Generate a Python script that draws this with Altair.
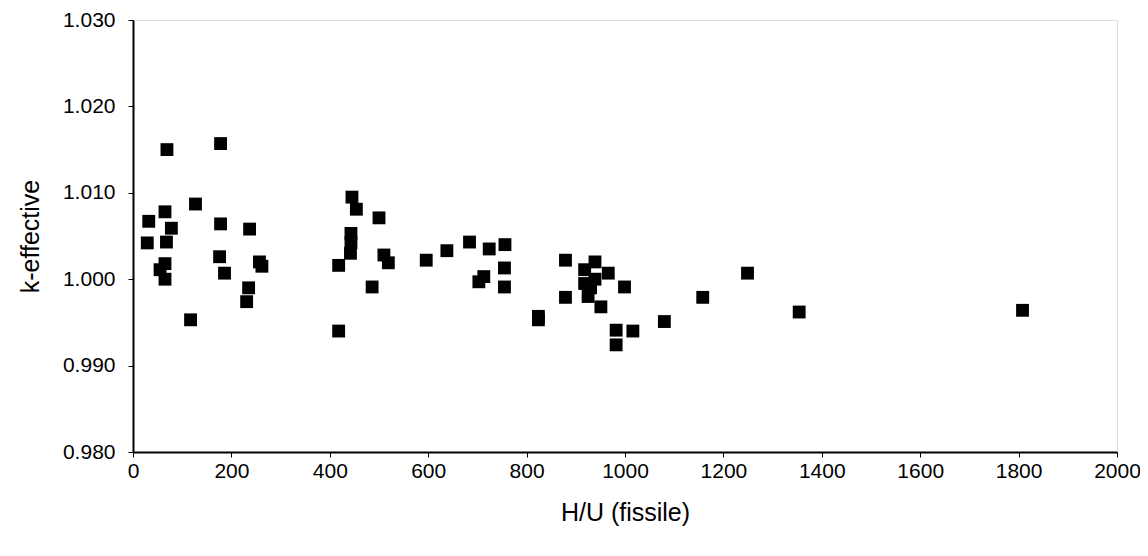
import altair as alt
import pandas as pd

hu = [29, 32, 65, 78, 68, 69, 55, 65, 65, 117, 127, 178, 178, 176, 186, 237, 235, 231, 257, 262,
      418, 418, 443, 443, 442, 445, 454, 486, 500, 510, 519, 596, 638, 684, 703, 713, 724, 756,
      755, 755, 824, 824, 879, 879, 918, 939, 966, 918, 925, 951, 999, 939, 930, 982, 982, 1016,
      1080, 1158, 1249, 1354, 1808]
keff = [1.0042, 1.0067, 1.0078, 1.0059, 1.0043, 1.0150, 1.0011, 1.0000, 1.0018, 0.9953, 1.0087,
        1.0157, 1.0064, 1.0026, 1.0007, 1.0058, 0.9990, 0.9974, 1.0020, 1.0015,
        1.0016, 0.9940, 1.0053, 1.0042, 1.0030, 1.0095, 1.0081, 0.9991, 1.0071, 1.0028, 1.0019,
        1.0022, 1.0033, 1.0043, 0.9997, 1.0003, 1.0035, 1.0040, 1.0013, 0.9991, 0.9957, 0.9953,
        1.0022, 0.9979, 1.0011, 1.0020, 1.0007, 0.9995, 0.9980, 0.9968, 0.9991, 1.0000, 0.9990,
        0.9941, 0.9924, 0.9940, 0.9951, 0.9979, 1.0007, 0.9962, 0.9964]

x_ticks = list(range(0, 2001, 200))
y_ticks = [0.98, 0.99, 1.00, 1.01, 1.02, 1.03]

df = pd.DataFrame({"hu": hu, "keff": keff})

font = "Liberation Sans"

chart = alt.Chart(df).mark_square(size=165, color="black", opacity=1).encode(
    x=alt.X("hu:Q", scale=alt.Scale(domain=[0, 2000], nice=False, zero=False),
            axis=alt.Axis(title="H/U (fissile)", values=x_ticks, format="d", grid=False,
                          domainColor="black", domainWidth=2, tickColor="black",
                          tickSize=5, labelPadding=3, labelFontSize=21, labelColor="black",
                          labelFont=font, titleFont=font, titleFontSize=25,
                          titleFontWeight="normal", titleColor="black",
                          titleY=60, titleBaseline="middle", labelFlush=False)),
    y=alt.Y("keff:Q", scale=alt.Scale(domain=[0.98, 1.03], nice=False, zero=False),
            axis=alt.Axis(title="k-effective", values=y_ticks, format=".3f", grid=False,
                          domainColor="black", domainWidth=2, tickColor="black",
                          tickSize=5, labelPadding=13, labelFontSize=21, labelColor="black",
                          labelFont=font, titleFont=font, titleFontSize=25,
                          titleFontWeight="normal", titleColor="black",
                          titleX=-103, titleY=216, titleAngle=-90,
                          titleAlign="center", titleBaseline="middle", labelFlush=False)),
).properties(
    width=984, height=432,
    padding={"left": 125, "top": 12, "right": 23, "bottom": 90},
    autosize=alt.AutoSizeParams(type="none"),
).configure_view(stroke="black", strokeWidth=2).configure(background="white")

chart.save("out.html", embed_options={"renderer": "svg", "actions": False})
